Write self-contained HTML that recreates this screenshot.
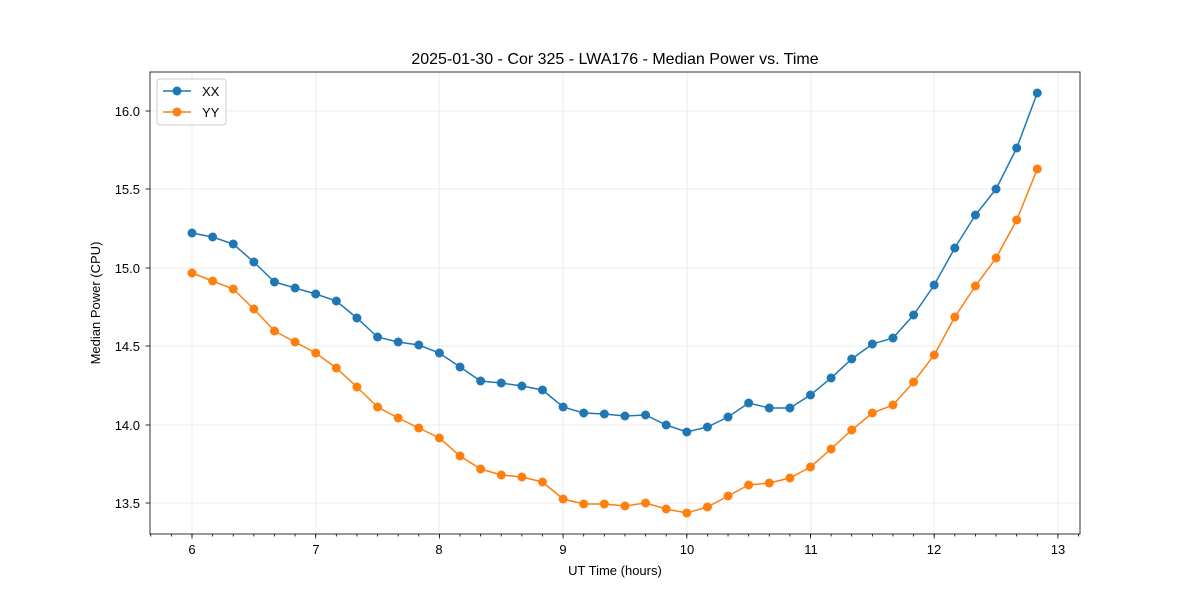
<!DOCTYPE html>
<html><head><meta charset="utf-8"><style>body{margin:0;background:#fff}</style></head>
<body>
<svg width="1200" height="600" xmlns="http://www.w3.org/2000/svg" font-family="Liberation Sans, DejaVu Sans, sans-serif">
<rect width="1200" height="600" fill="#fff"/>
<g stroke="#e6e6e6" stroke-width="0.8">
<line x1="192" y1="72" x2="192" y2="534"/><line x1="316" y1="72" x2="316" y2="534"/><line x1="439" y1="72" x2="439" y2="534"/><line x1="563" y1="72" x2="563" y2="534"/><line x1="687" y1="72" x2="687" y2="534"/><line x1="811" y1="72" x2="811" y2="534"/><line x1="934" y1="72" x2="934" y2="534"/><line x1="1058" y1="72" x2="1058" y2="534"/>
<line x1="150" y1="111" x2="1080" y2="111"/><line x1="150" y1="189" x2="1080" y2="189"/><line x1="150" y1="268" x2="1080" y2="268"/><line x1="150" y1="346" x2="1080" y2="346"/><line x1="150" y1="425" x2="1080" y2="425"/><line x1="150" y1="503" x2="1080" y2="503"/>
</g>
<rect x="150" y="72" width="930" height="462" fill="none" stroke="#000" stroke-width="0.8"/>
<g stroke="#000" stroke-width="0.8" id="ticks"></g>
<g font-size="13" fill="#000" text-anchor="middle">
<text x="192" y="554">6</text><text x="316" y="554">7</text><text x="439" y="554">8</text><text x="563" y="554">9</text><text x="687" y="554">10</text><text x="811" y="554">11</text><text x="934" y="554">12</text><text x="1058" y="554">13</text>
</g>
<g font-size="13" fill="#000" text-anchor="end">
<text x="140" y="116">16.0</text><text x="140" y="194">15.5</text><text x="140" y="273">15.0</text><text x="140" y="351">14.5</text><text x="140" y="430">14.0</text><text x="140" y="508">13.5</text>
</g>
<text x="615" y="575" font-size="13" text-anchor="middle">UT Time (hours)</text>
<text x="100" y="303" font-size="13" text-anchor="middle" transform="rotate(-90 100 303)">Median Power (CPU)</text>
<text x="615" y="64" font-size="16" text-anchor="middle">2025-01-30 - Cor 325 - LWA176 - Median Power vs. Time</text>
<g id="series"></g>
<rect x="157" y="79" width="69" height="46" fill="#fff" fill-opacity="0.8" stroke="#ccc" rx="3"/>
<line x1="163" y1="91" x2="191" y2="91" stroke="#1f77b4" stroke-width="1.5"/><circle cx="177" cy="91" r="4.5" fill="#1f77b4"/>
<line x1="163" y1="112" x2="191" y2="112" stroke="#ff7f0e" stroke-width="1.5"/><circle cx="177" cy="112" r="4.5" fill="#ff7f0e"/>
<text x="202" y="96" font-size="13">XX</text><text x="202" y="117" font-size="13">YY</text>
</svg>
<script>
var ns="http://www.w3.org/2000/svg";
var t=document.getElementById("ticks");
function ln(g,x1,y1,x2,y2){var l=document.createElementNS(ns,"line");l.setAttribute("x1",x1);l.setAttribute("y1",y1);l.setAttribute("x2",x2);l.setAttribute("y2",y2);g.appendChild(l);}
for(var h=6;h<=13;h++){var x=192+(h-6)*123.7;ln(t,x,534,x,538.5);}
for(var k=-2;k<=44;k++){var x=192+k*123.7/6;if(x>150&&x<1080)ln(t,x,534,x,536.5);}
[111,189,268,346,425,503].forEach(function(y){ln(t,150,y,145.5,y);});
var xx=[233,237,244,262,282,288,294,301,318,337,342,345,353,367,381,383,386,390,407,413,414,416,415,425,432,427,417,403,408,408,395,378,359,344,338,315,285,248,215,189,148,93];
var yy=[273,281,289,309,331,342,353,368,387,407,418,428,438,456,469,475,477,482,499,504,504,506,503,509,513,507,496,485,483,478,467,449,430,413,405,382,355,317,286,258,220,169];
var s=document.getElementById("series");
function draw(d,c){var pts=d.map(function(y,i){return (192+i*123.7/6).toFixed(1)+","+y;}).join(" ");
var p=document.createElementNS(ns,"polyline");p.setAttribute("points",pts);p.setAttribute("fill","none");p.setAttribute("stroke",c);p.setAttribute("stroke-width","1.5");s.appendChild(p);
d.forEach(function(y,i){var ci=document.createElementNS(ns,"circle");ci.setAttribute("cx",192+i*123.7/6);ci.setAttribute("cy",y);ci.setAttribute("r",4.5);ci.setAttribute("fill",c);s.appendChild(ci);});}
draw(xx,"#1f77b4");draw(yy,"#ff7f0e");
</script>
</body></html>
